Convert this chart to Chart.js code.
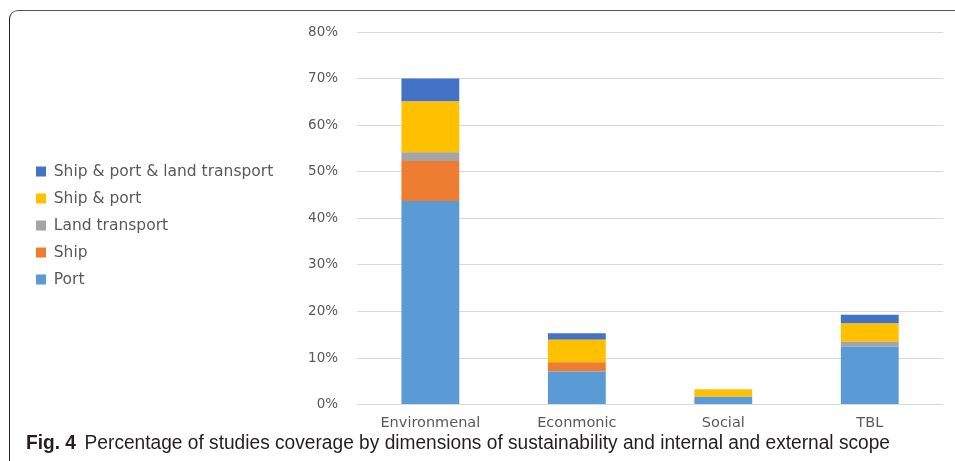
<!DOCTYPE html>
<html>
<head>
<meta charset="utf-8">
<script src="https://cdn.jsdelivr.net/npm/chart.js@4"></script>
<style>
  html, body { margin: 0; padding: 0; background: #fff; }
  body { width: 955px; height: 461px; position: relative; overflow: hidden; }
  #frame { position: absolute; left: 9px; top: 10px; width: 980px; height: 480px;
           border-left: 1.5px solid #222; border-top: 1.5px solid #555; border-top-left-radius: 9px; }
  #wrap { position: absolute; left: 0; top: 0; width: 955px; height: 446px; }
  #caption { position: absolute; left: 26px; top: 431px; white-space: nowrap;
             font-family: "Liberation Sans Narrow", "Liberation Sans", sans-serif; font-size: 20px; color: #231f20;
             transform-origin: 0 0; }
  #caption b { font-weight: bold; margin-right: 9px; }
</style>
</head>
<body>
<div id="frame"></div>
<div id="wrap"><canvas id="c"></canvas></div>
<div id="caption"><b>Fig. 4</b>Percentage of studies coverage by dimensions of sustainability and internal and external scope</div>
<script>
const categories = ['Environmenal', 'Econmonic', 'Social', 'TBL'];
const port = [43.7, 7.1, 1.7, 12.5];
const ship = [8.6, 2.0, 0, 0];
const landTransport = [1.9, 0, 0, 1.0];
const shipAndPort = [10.9, 4.8, 1.6, 3.9];
const shipPortLand = [4.9, 1.4, 0, 1.9];
const yTicks = [0, 10, 20, 30, 40, 50, 60, 70, 80];

const cap = document.getElementById('caption');
const w = cap.getBoundingClientRect().width;
cap.style.transform = 'scaleX(' + (864 / w) + ')';

// let the legend text run past the layout's width limit (only affects clipping)
const widenLegend = {
  id: 'widenLegend',
  afterLayout(chart) {
    const l = chart.legend;
    if (l) { l.right = l.left + 300; l.width = 300; }
  }
};

const txt = '#595959';
new Chart(document.getElementById('c'), {
  type: 'bar',
  data: {
    labels: categories,
    datasets: [
      { label: 'Port', data: port, backgroundColor: '#5B9BD5' },
      { label: 'Ship', data: ship, backgroundColor: '#ED7D31' },
      { label: 'Land transport', data: landTransport, backgroundColor: '#A5A5A5' },
      { label: 'Ship & port', data: shipAndPort, backgroundColor: '#FFC000' },
      { label: 'Ship & port & land transport', data: shipPortLand, backgroundColor: '#4472C4' }
    ]
  },
  plugins: [widenLegend],
  options: {
    responsive: true,
    maintainAspectRatio: false,
    animation: false,
    datasets: { bar: { categoryPercentage: 1, barPercentage: 0.395, borderWidth: 0 } },
    layout: { padding: { left: 24.5, right: 12, top: 32, bottom: 4 } },
    plugins: {
      tooltip: { enabled: false },
      legend: {
        position: 'left',
        reverse: true,
        title: { display: true, text: '', font: { size: 1, lineHeight: 1 }, padding: { top: -12, bottom: -12 } },
        labels: { boxWidth: 10, boxHeight: 10, padding: 11.5, color: txt,
                  font: { family: 'DejaVu Sans', size: 15.5 } }
      }
    },
    scales: {
      x: {
        stacked: true,
        grid: { display: false, drawTicks: false },
        border: { display: false },
        ticks: { color: txt, font: { family: 'DejaVu Sans', size: 14.5 }, padding: 10 }
      },
      y: {
        stacked: true,
        min: 0, max: 80,
        afterBuildTicks: (s) => { s.ticks = yTicks.map(v => ({ value: v })); },
        afterFit: (s) => { s.width = 103; },
        grid: { color: '#D9D9D9', lineWidth: 1, drawTicks: false },
        border: { display: false },
        ticks: { color: txt, font: { family: 'DejaVu Sans', size: 13.5 }, padding: 19,
                 callback: (v) => v + '%' }
      }
    }
  }
});
</script>
</body>
</html>
